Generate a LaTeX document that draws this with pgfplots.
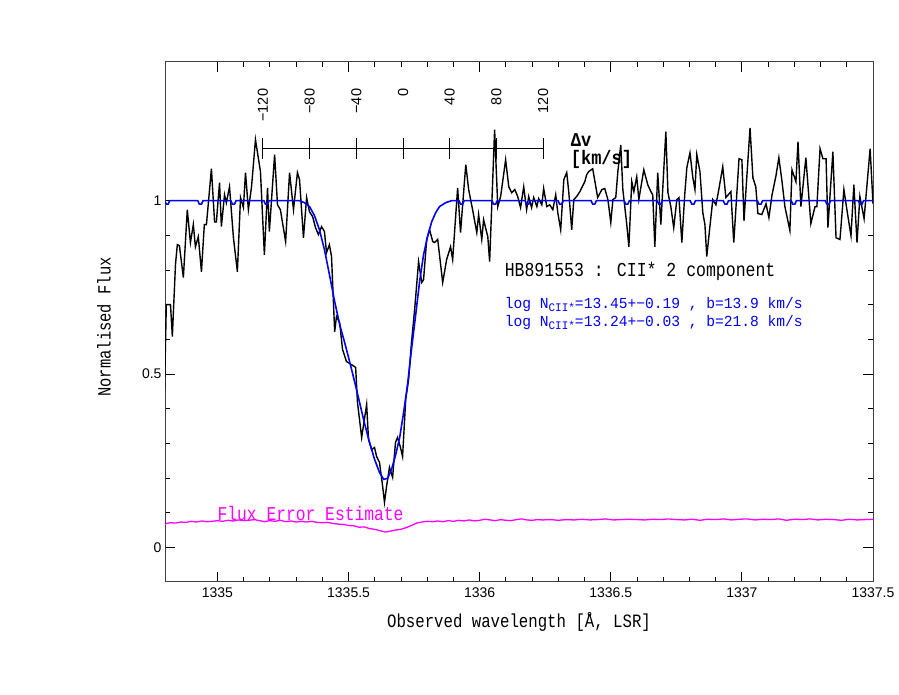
\documentclass[border=0pt]{standalone}
\usepackage{pgfplots}
\pgfplotsset{compat=1.18}
\usepackage{fontspec}
\setmainfont{Liberation Mono}
\newfontfamily\tickfont{Liberation Sans}
\definecolor{fitblue}{RGB}{0,0,255}
\definecolor{errmag}{RGB}{255,0,255}
\begin{document}
\begin{tikzpicture}[x=1pt,y=1pt]
\path[use as bounding box] (0,0) rectangle (899,695);
\begin{axis}[at={(165pt,113pt)}, anchor=south west, scale only axis,
  width=708pt, height=520pt,
  xmin=1334.8, xmax=1337.5, ymin=-0.1, ymax=1.4,
  xtick={1335,1335.5,1336,1336.5,1337,1337.5},
  xticklabels={1335,1335.5,1336,1336.5,1337,1337.5},
  ytick={0,0.5,1}, yticklabels={0,0.5,1},
  minor x tick num=4, minor y tick num=4,
  tick align=inside, major tick length=10pt, minor tick length=5pt,
  axis line style={line width=1pt, black!75},
  tick style={line width=0.8pt, black},
  ticklabel style={font=\tickfont\fontsize{14}{16}\selectfont},
  xticklabel style={yshift=-2pt},
]
% error
\addplot[errmag, line width=1.3pt] coordinates {
(1334.80,0.068)(1334.82,0.071)(1334.84,0.070)(1334.86,0.073)(1334.88,0.072)(1334.90,0.075)
(1334.92,0.073)(1334.94,0.076)(1334.96,0.074)(1334.98,0.075)(1335.00,0.077)(1335.02,0.075)
(1335.04,0.078)(1335.06,0.076)(1335.08,0.079)(1335.10,0.077)(1335.12,0.078)(1335.14,0.080)
(1335.16,0.077)(1335.18,0.074)(1335.20,0.077)(1335.22,0.075)(1335.24,0.078)(1335.26,0.074)
(1335.28,0.076)(1335.30,0.073)(1335.32,0.075)(1335.34,0.073)(1335.36,0.075)(1335.38,0.072)
(1335.40,0.071)(1335.42,0.072)(1335.44,0.069)(1335.46,0.067)(1335.48,0.066)(1335.50,0.063)
(1335.52,0.062)(1335.54,0.058)(1335.56,0.059)(1335.58,0.054)(1335.60,0.052)(1335.62,0.048)
(1335.64,0.044)(1335.66,0.047)(1335.68,0.050)(1335.70,0.052)(1335.72,0.057)(1335.74,0.063)
(1335.76,0.070)(1335.78,0.073)(1335.80,0.075)(1335.82,0.074)(1335.84,0.076)(1335.86,0.074)
(1335.88,0.077)(1335.90,0.075)(1335.92,0.078)(1335.94,0.076)(1335.96,0.079)(1335.98,0.076)
(1336.00,0.078)(1336.02,0.081)(1336.04,0.079)(1336.06,0.077)(1336.08,0.080)(1336.10,0.078)
(1336.12,0.077)(1336.14,0.080)(1336.16,0.082)(1336.18,0.079)(1336.20,0.078)(1336.22,0.080)
(1336.24,0.079)(1336.27,0.080)(1336.30,0.078)(1336.33,0.080)(1336.36,0.079)(1336.39,0.081)
(1336.42,0.079)(1336.45,0.080)(1336.48,0.082)(1336.51,0.079)(1336.54,0.080)(1336.57,0.081)
(1336.60,0.080)(1336.63,0.079)(1336.66,0.081)(1336.69,0.080)(1336.72,0.082)(1336.75,0.080)
(1336.78,0.079)(1336.81,0.081)(1336.84,0.078)(1336.87,0.081)(1336.90,0.080)(1336.93,0.082)
(1336.96,0.079)(1336.99,0.081)(1337.02,0.082)(1337.05,0.079)(1337.08,0.081)(1337.11,0.080)
(1337.14,0.082)(1337.17,0.078)(1337.20,0.081)(1337.23,0.080)(1337.26,0.082)(1337.29,0.079)
(1337.32,0.081)(1337.35,0.080)(1337.38,0.078)(1337.41,0.081)(1337.44,0.079)(1337.47,0.080)
(1337.50,0.081)
};
% data
\addplot[black, line width=1.4pt] coordinates {
(1334.798,0.447)(1334.805,0.700)(1334.821,0.700)(1334.828,0.608)(1334.840,0.816)(1334.847,0.873)
(1334.855,0.870)(1334.870,0.778)(1334.885,0.974)(1334.897,0.879)(1334.908,0.931)(1334.916,0.867)
(1334.927,0.896)(1334.939,0.795)(1334.950,0.931)(1334.958,0.931)(1334.977,1.092)(1334.989,0.939)
(1334.996,0.939)(1335.008,1.052)(1335.015,0.925)(1335.027,1.017)(1335.034,0.994)(1335.046,1.040)
(1335.061,0.893)(1335.076,0.795)(1335.088,1.009)(1335.099,0.980)(1335.107,1.081)(1335.118,0.974)
(1335.130,1.040)(1335.145,1.176)(1335.164,1.084)(1335.179,0.844)(1335.191,1.037)(1335.198,0.911)
(1335.218,1.133)(1335.229,0.988)(1335.240,0.974)(1335.260,0.882)(1335.275,1.081)(1335.290,0.974)
(1335.305,1.081)(1335.313,1.061)(1335.328,0.893)(1335.340,1.009)(1335.351,0.968)(1335.363,0.954)
(1335.374,0.922)(1335.385,0.902)(1335.397,0.925)(1335.408,0.911)(1335.416,0.850)(1335.427,0.873)
(1335.435,0.839)(1335.447,0.622)(1335.454,0.666)(1335.466,0.648)(1335.477,0.571)(1335.492,0.536)
(1335.511,0.527)(1335.527,0.519)(1335.534,0.418)(1335.550,0.317)(1335.569,0.412)(1335.576,0.311)
(1335.588,0.282)(1335.599,0.288)(1335.607,0.262)(1335.618,0.245)(1335.630,0.176)(1335.637,0.130)
(1335.645,0.176)(1335.656,0.231)(1335.668,0.202)(1335.679,0.303)(1335.687,0.317)(1335.698,0.288)
(1335.706,0.262)(1335.718,0.427)(1335.729,0.484)(1335.740,0.591)(1335.752,0.686)(1335.767,0.824)
(1335.779,0.764)(1335.786,0.772)(1335.798,0.888)(1335.809,0.916)(1335.821,0.882)(1335.828,0.879)
(1335.840,0.888)(1335.859,0.764)(1335.874,0.830)(1335.889,0.867)(1335.897,0.830)(1335.916,1.037)
(1335.927,0.908)(1335.947,1.104)(1335.958,1.032)(1335.973,0.974)(1335.989,0.908)(1335.996,0.960)
(1336.008,0.888)(1336.015,0.945)(1336.031,0.896)(1336.038,0.824)(1336.057,1.205)(1336.069,0.983)
(1336.080,1.012)(1336.099,1.118)(1336.111,1.040)(1336.122,1.023)(1336.134,1.032)(1336.145,1.012)
(1336.156,0.980)(1336.168,1.040)(1336.179,0.974)(1336.187,1.012)(1336.198,0.980)(1336.206,1.009)
(1336.218,0.983)(1336.225,1.006)(1336.237,0.988)(1336.244,1.035)(1336.256,0.983)(1336.267,0.988)
(1336.279,0.974)(1336.290,1.017)(1336.298,0.965)(1336.309,0.916)(1336.321,1.061)(1336.332,1.081)
(1336.340,1.023)(1336.351,0.916)(1336.359,1.003)(1336.370,1.012)(1336.382,1.026)(1336.401,1.055)
(1336.408,1.075)(1336.416,1.084)(1336.431,1.092)(1336.443,1.040)(1336.450,1.009)(1336.466,1.032)
(1336.477,1.035)(1336.489,1.003)(1336.500,0.937)(1336.508,1.003)(1336.519,1.009)(1336.527,1.084)
(1336.538,1.161)(1336.546,1.032)(1336.561,0.931)(1336.569,0.867)(1336.580,1.055)(1336.588,1.026)
(1336.599,1.069)(1336.607,1.003)(1336.626,1.089)(1336.641,1.046)(1336.653,1.026)(1336.660,1.017)
(1336.668,0.867)(1336.679,1.081)(1336.691,0.931)(1336.698,1.032)(1336.710,1.199)(1336.718,1.023)
(1336.729,0.983)(1336.740,0.922)(1336.752,1.003)(1336.760,1.009)(1336.771,0.879)(1336.782,1.017)
(1336.790,1.095)(1336.802,1.138)(1336.813,1.066)(1336.821,1.032)(1336.828,1.133)(1336.840,1.084)
(1336.851,0.965)(1336.859,0.931)(1336.866,0.839)(1336.878,0.925)(1336.889,1.003)(1336.901,0.988)
(1336.912,1.032)(1336.927,1.098)(1336.939,1.009)(1336.958,1.026)(1336.969,0.879)(1336.989,1.121)
(1337.000,1.118)(1337.008,0.942)(1337.031,1.210)(1337.042,1.066)(1337.053,1.040)(1337.061,0.963)
(1337.076,0.960)(1337.092,0.991)(1337.103,0.951)(1337.115,1.017)(1337.130,1.072)(1337.141,1.124)
(1337.153,1.055)(1337.164,0.983)(1337.183,0.914)(1337.191,1.089)(1337.206,1.055)(1337.214,1.170)
(1337.225,0.983)(1337.244,1.124)(1337.263,0.934)(1337.279,0.983)(1337.286,0.983)(1337.298,1.150)
(1337.309,1.121)(1337.321,1.121)(1337.328,0.922)(1337.347,1.141)(1337.359,0.893)(1337.374,0.888)
(1337.389,1.032)(1337.401,0.971)(1337.416,0.899)(1337.427,1.046)(1337.439,0.879)(1337.450,1.012)
(1337.466,0.948)(1337.489,1.150)(1337.500,0.991)
};
% fit
\addplot[fitblue, line width=1.6pt] coordinates {
(1334.798,1.000)(1334.801,0.995)(1334.806,0.990)(1334.812,0.990)(1334.818,1.000)
(1334.925,1.000)(1334.931,0.990)(1334.939,0.990)(1334.945,1.000)
(1335.051,1.000)(1335.057,0.990)(1335.065,0.990)(1335.071,1.000)
(1335.177,1.000)(1335.183,0.990)(1335.191,0.990)(1335.197,1.000)
(1335.313,1.000)(1335.332,0.994)(1335.351,0.983)(1335.370,0.957)(1335.389,0.916)(1335.408,0.859)
(1335.427,0.787)(1335.447,0.709)(1335.466,0.643)(1335.485,0.591)(1335.504,0.536)(1335.523,0.478)
(1335.542,0.418)(1335.561,0.357)(1335.580,0.303)(1335.599,0.254)(1335.618,0.216)(1335.634,0.196)
(1335.649,0.199)(1335.664,0.225)(1335.679,0.265)(1335.695,0.317)(1335.710,0.389)(1335.725,0.470)
(1335.740,0.571)(1335.756,0.671)(1335.771,0.767)(1335.786,0.844)(1335.802,0.899)(1335.817,0.939)
(1335.832,0.965)(1335.847,0.983)(1335.870,0.994)(1335.893,1.000)
(1335.921,1.000)(1335.927,0.990)(1335.935,0.990)(1335.941,1.000)
(1336.047,1.000)(1336.053,0.990)(1336.061,0.990)(1336.067,1.000)
(1336.173,1.000)(1336.179,0.990)(1336.187,0.990)(1336.193,1.000)
(1336.299,1.000)(1336.305,0.990)(1336.313,0.990)(1336.319,1.000)
(1336.425,1.000)(1336.431,0.990)(1336.439,0.990)(1336.445,1.000)
(1336.551,1.000)(1336.557,0.990)(1336.565,0.990)(1336.571,1.000)
(1336.677,1.000)(1336.683,0.990)(1336.691,0.990)(1336.697,1.000)
(1336.803,1.000)(1336.809,0.990)(1336.817,0.990)(1336.823,1.000)
(1336.929,1.000)(1336.935,0.990)(1336.943,0.990)(1336.949,1.000)
(1337.059,1.000)(1337.065,0.990)(1337.073,0.990)(1337.079,1.000)
(1337.188,1.000)(1337.194,0.990)(1337.202,0.990)(1337.208,1.000)
(1337.318,1.000)(1337.324,0.990)(1337.332,0.990)(1337.338,1.000)
(1337.444,1.000)(1337.450,0.990)(1337.458,0.990)(1337.464,1.000)
(1337.500,1.000)
};
% velocity scale
\draw[black, line width=1pt] (axis cs:1335.1731,1.150) -- (axis cs:1336.2424,1.150);
\foreach \lam in {1335.1731,1335.3513,1335.5295,1335.7077,1335.8859,1336.0641,1336.2424}{
  \edef\temp{\noexpand\draw[black, line width=1pt] (axis cs:\lam,1.121) -- (axis cs:\lam,1.182);}
  \temp
}
\foreach \lam/\lab in {1335.1731/−120,1335.3513/−80,1335.5295/−40,1335.7077/0,1335.8859/40,1336.0641/80,1336.2424/120}{
  \edef\temp{\noexpand\node[rotate=90, anchor=east, inner sep=0pt, font=\noexpand\tickfont\noexpand\fontsize{14.5}{16}\noexpand\selectfont] at (axis cs:\lam,1.323) {\lab};}
  \temp
}
\node[anchor=west, inner sep=0pt, yscale=1.15, transform shape, font=\bfseries\fontsize{17}{18}\selectfont] at (axis cs:1336.347,1.176) {Δv};
\node[anchor=west, inner sep=0pt, yscale=1.15, transform shape, font=\bfseries\fontsize{17}{18}\selectfont] at (axis cs:1336.347,1.118) {[km/s]};
\node[anchor=west, inner sep=0pt, yscale=1.2, transform shape, font=\fontsize{16.5}{18}\selectfont] at (axis cs:1336.095,0.795) {HB891553 : CII* 2 component};
\node[anchor=west, inner sep=0pt, yscale=1.05, transform shape, text=fitblue, font=\fontsize{14.6}{16}\selectfont] at (axis cs:1336.095,0.699) {log N\raisebox{-0.3ex}{\fontsize{11}{12}\selectfont CII*}=13.45+−0.19 , b=13.9 km/s};
\node[anchor=west, inner sep=0pt, yscale=1.05, transform shape, text=fitblue, font=\fontsize{14.6}{16}\selectfont] at (axis cs:1336.095,0.648) {log N\raisebox{-0.3ex}{\fontsize{11}{12}\selectfont CII*}=13.24+−0.03 , b=21.8 km/s};
\node[anchor=west, inner sep=0pt, yscale=1.2, transform shape, text=errmag, font=\fontsize{16.3}{18}\selectfont] at (axis cs:1335.0,0.098) {Flux Error Estimate};
\end{axis}
\node[yscale=1.2, transform shape, font=\fontsize{15.7}{17}\selectfont] at (519,73) {Observed wavelength [Å, LSR]};
\node[rotate=90, yscale=1.2, transform shape, font=\fontsize{15.5}{17}\selectfont] at (104,368) {Normalised Flux};
\end{tikzpicture}
\end{document}
